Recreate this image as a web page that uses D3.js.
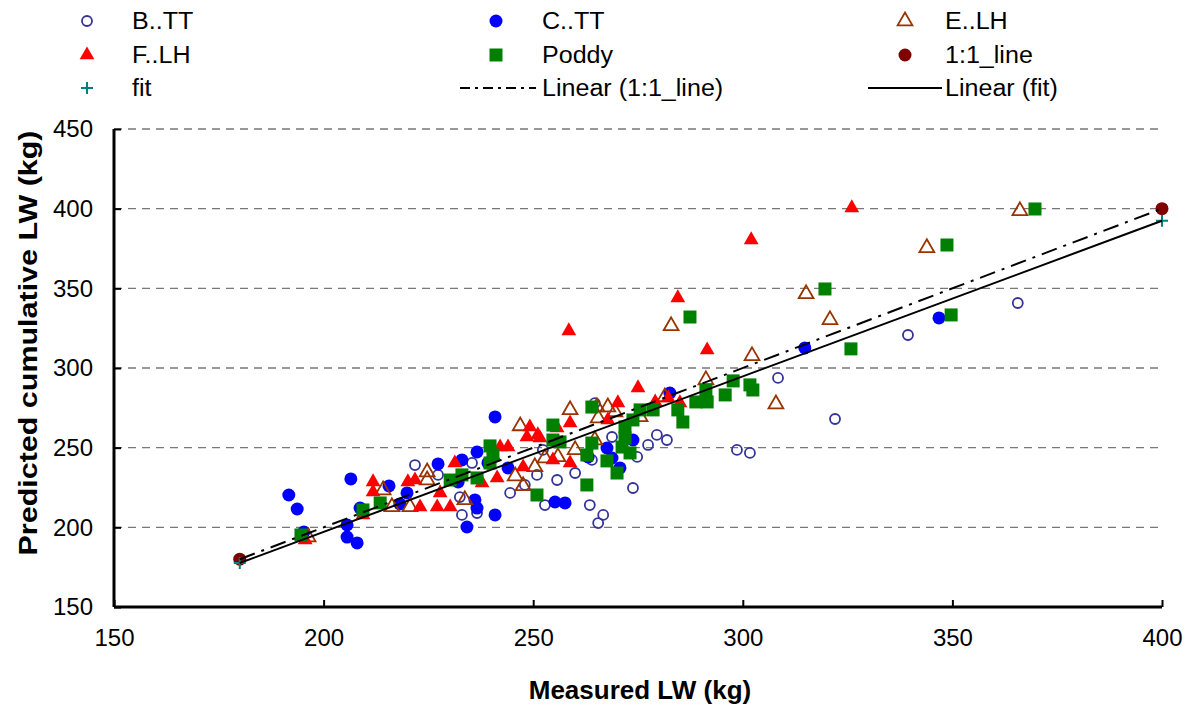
<!DOCTYPE html>
<html><head><meta charset="utf-8">
<script src="https://cdn.jsdelivr.net/npm/d3@7"></script>
<style>body{margin:0;background:#fff}svg{display:block}text{font-family:Arial,"Liberation Sans",sans-serif}</style>
</head><body><svg id="c" width="1195" height="708"></svg>
<script>
const xTicks=[150,200,250,300,350,400];
const yTicks=[150,200,250,300,350,400,450];
const seriesNames=["B..TT","C..TT","E..LH","F..LH","Poddy","1:1_line","fit"];
const bTT=[[221.8,239.1],[227.3,232.9],[232.5,219],[233,207.8],[235.4,240.4],[236.6,209],[244.5,221.6],[248,226.6],[250.9,232.9],[252.8,214],[252.3,248.6],[255.7,229.7],[260,234.1],[264,242.3],[263.5,214],[264.7,278],[265.5,202.7],[266.7,207.8],[268.8,256.7],[274.8,244.2],[277.4,251.7],[279.5,258],[281.9,254.8],[273.8,224.7],[298.6,248.6],[301.7,246.7],[308.4,293.8],[322,268],[339.4,320.7],[365.6,340.8]];
const cTT=[[191.7,220.3],[193.7,211.5],[206.5,230.4],[205.6,201.5],[205.6,193.9],[208,190.2],[208.7,212.1],[195.3,197.1],[215.6,226],[219.9,221.6],[218.2,214.7],[227.3,239.8],[233,242.3],[232.1,228.5],[236.6,247.3],[234.2,200.2],[240.9,269.3],[239.2,240.4],[236.1,217.2],[236.6,212.1],[240.9,207.8],[244,237.3],[255.2,215.9],[257.6,215.3],[263.1,244.2],[267.6,249.8],[268.8,243.5],[270.7,237.3],[273.8,254.8],[282.6,284.3],[314.8,312.6],[346.8,331.4]];
const eLH=[[196.3,193.9],[214.2,223.4],[216.3,212.8],[220.6,212.8],[224.7,234.7],[224.7,229.7],[233.7,217.2],[245.7,232.2],[246.9,263.6],[247.6,226],[250.4,237.9],[252.8,243.5],[255.9,244.2],[258.8,273.7],[260,248.6],[265.2,275.5],[267.8,275.5],[265.5,268.6],[269.5,272.4],[264.7,254.8],[275.5,269.3],[281.4,281.8],[282.9,326.4],[291.2,292.5],[302.2,307.6],[307.9,277.4],[315.1,346.5],[320.8,330.2],[343.9,375.4],[366.1,398.6]];
const fLH=[[195.6,192.1],[209.4,207.8],[211.8,228.5],[211.8,222.2],[220.1,228.5],[221.8,229.7],[223,212.8],[227.1,212.8],[230.2,212.8],[227.8,221.6],[231.3,240.4],[237.8,227.8],[241.4,231],[240.4,245.4],[242.1,250.4],[244,250.4],[247.6,237.9],[248.5,256.7],[249.2,263],[251.1,258],[254.7,242.3],[255.7,262.4],[251.6,256.1],[258.8,240.4],[258.8,265.5],[258.5,323.3],[267.8,267.4],[270.2,278.1],[275,287.5],[279.1,278.7],[282.2,281.2],[285,278.1],[284.5,344],[291.5,311.3],[302,380.4],[326,400.5]];
const poddy=[[194.6,195.2],[209.4,210.9],[213.5,215.3],[230.2,229.7],[233,232.9],[236.6,231],[239.7,251.1],[240.4,245.4],[239.7,240.4],[254.7,264.2],[254.7,254.8],[256.4,253.6],[250.9,220.3],[262.8,226.6],[264,275.5],[262.8,245.4],[264,252.9],[267.6,241.7],[270,234.1],[271.2,250.4],[271.9,256.1],[271.9,263],[273.1,246.7],[273.8,267.4],[275.5,273.7],[278.6,273.7],[284.5,273.7],[285.7,266.1],[287.4,332],[288.8,278.7],[291.5,278.7],[291.2,286.2],[295.8,283.1],[297.7,291.9],[301.7,289.4],[302.4,286.2],[319.6,349.6],[325.8,312],[348.7,377.2],[349.7,333.3],[369.7,399.8]];
const oneToOne=[[180,180],[400,400]];
const fitPts=[[180,177.6],[400,392.4]];

const FONT="Arial,'Liberation Sans',sans-serif";
const svg=d3.select("#c");
const x=d3.scaleLinear().domain([150,400]).range([114,1162]);
const y=d3.scaleLinear().domain([150,450]).range([607,129]);

// gridlines
svg.append("g").selectAll("line").data(yTicks.filter(d=>d>150)).join("line")
 .attr("x1",x(150)).attr("x2",x(400)).attr("y1",d=>y(d)).attr("y2",d=>y(d))
 .attr("stroke","#777").attr("stroke-width",1.3).attr("stroke-dasharray","8,6");

// axes
const xAxis=d3.axisBottom(x).tickValues(xTicks).tickSize(-7).tickPadding(22).tickFormat(d3.format("d"));
const gx=svg.append("g").attr("transform",`translate(0,${y(150)})`).call(xAxis);
gx.select(".domain").attr("stroke","#000").attr("stroke-width",3).attr("d",`M${x(150)},0H${x(400)}`);
gx.selectAll(".tick line").attr("stroke","#000").attr("stroke-width",2);
gx.selectAll(".tick text").attr("font-size",24).attr("fill","#000").attr("font-family",FONT);
const yAxis=d3.axisLeft(y).tickValues(yTicks).tickSize(-7).tickPadding(21).tickFormat(d3.format("d"));
const gy=svg.append("g").attr("transform",`translate(${x(150)},0)`).call(yAxis);
gy.select(".domain").attr("stroke","#000").attr("stroke-width",3).attr("d",`M0,${y(450)}V${y(150)}`);
gy.selectAll(".tick line").attr("stroke","#000").attr("stroke-width",2);
gy.selectAll(".tick text").attr("font-size",24).attr("fill","#000").attr("font-family",FONT);

// axis titles
svg.append("text").attr("x",640).attr("y",699).attr("text-anchor","middle").attr("font-size",26).attr("font-weight","bold").text("Measured LW (kg)");
svg.append("text").attr("transform",`translate(37,343) rotate(-90)`).attr("text-anchor","middle").attr("font-size",26).attr("font-weight","bold")
 .attr("textLength",425).attr("lengthAdjust","spacingAndGlyphs").text("Predicted cumulative LW (kg)");

// marker renderers
const tri=d3.symbol().type(d3.symbolTriangle).size(95)();
const markers={
 "B..TT":(g)=>g.append("circle").attr("r",5).attr("fill","none").attr("stroke","#333399").attr("stroke-width",1.8),
 "C..TT":(g)=>g.append("circle").attr("r",6.5).attr("fill","#0000FF"),
 "E..LH":(g)=>g.append("path").attr("d",tri).attr("fill","none").attr("stroke","#993300").attr("stroke-width",1.8),
 "F..LH":(g)=>g.append("path").attr("d",tri).attr("fill","#FF0000"),
 "Poddy":(g)=>g.append("rect").attr("x",-6.5).attr("y",-6.5).attr("width",13).attr("height",13).attr("fill","#008000"),
 "1:1_line":(g)=>g.append("circle").attr("r",6.5).attr("fill","#800000"),
 "fit":(g)=>g.append("path").attr("d","M-6,0H6M0,-6V6").attr("stroke","#008080").attr("stroke-width",2)
};
const dataSets=[bTT,cTT,eLH,fLH,poddy,oneToOne,fitPts];
dataSets.forEach((ds,i)=>{
 const name=seriesNames[i];
 svg.append("g").selectAll("g").data(ds).join("g")
  .attr("transform",d=>`translate(${x(d[0])},${y(d[1])})`)
  .each(function(){markers[name](d3.select(this));});
});

// trend lines
const line=d3.line().x(d=>x(d[0])).y(d=>y(d[1]));
svg.append("path").attr("d",line(oneToOne)).attr("fill","none").attr("stroke","#000").attr("stroke-width",2).attr("stroke-dasharray","16,7,3,7");
svg.append("path").attr("d",line(fitPts)).attr("fill","none").attr("stroke","#000").attr("stroke-width",2);

// legend
const legItems=[
 {n:"B..TT",c:0,r:0},{n:"C..TT",c:1,r:0},{n:"E..LH",c:2,r:0},
 {n:"F..LH",c:0,r:1},{n:"Poddy",c:1,r:1},{n:"1:1_line",c:2,r:1},
 {n:"fit",c:0,r:2},{n:"Linear (1:1_line)",c:1,r:2,line:"dash"},{n:"Linear (fit)",c:2,r:2,line:"solid"}
];
const colMarkX=[87,496,905], colTextX=[132,542,945], rowY=[21,55,88];
const lineX=[[0,0],[460,536],[868,942]];
legItems.forEach(it=>{
 const cy=rowY[it.r];
 if(it.line){
  const lx=lineX[it.c];
  svg.append("line").attr("x1",lx[0]).attr("x2",lx[1]).attr("y1",cy).attr("y2",cy).attr("stroke","#000").attr("stroke-width",2)
   .attr("stroke-dasharray",it.line==="dash"?"10,5,3,5":null);
 } else {
  const g=svg.append("g").attr("transform",`translate(${colMarkX[it.c]},${cy})`);
  markers[it.n](g);
 }
 const t=svg.append("text").attr("x",colTextX[it.c]).attr("y",cy+8).attr("font-size",23).attr("fill","#000").text(it.n);
 const w=t.node().getComputedTextLength();
 t.attr("textLength",w*1.09).attr("lengthAdjust","spacingAndGlyphs");
});
</script></body></html>
